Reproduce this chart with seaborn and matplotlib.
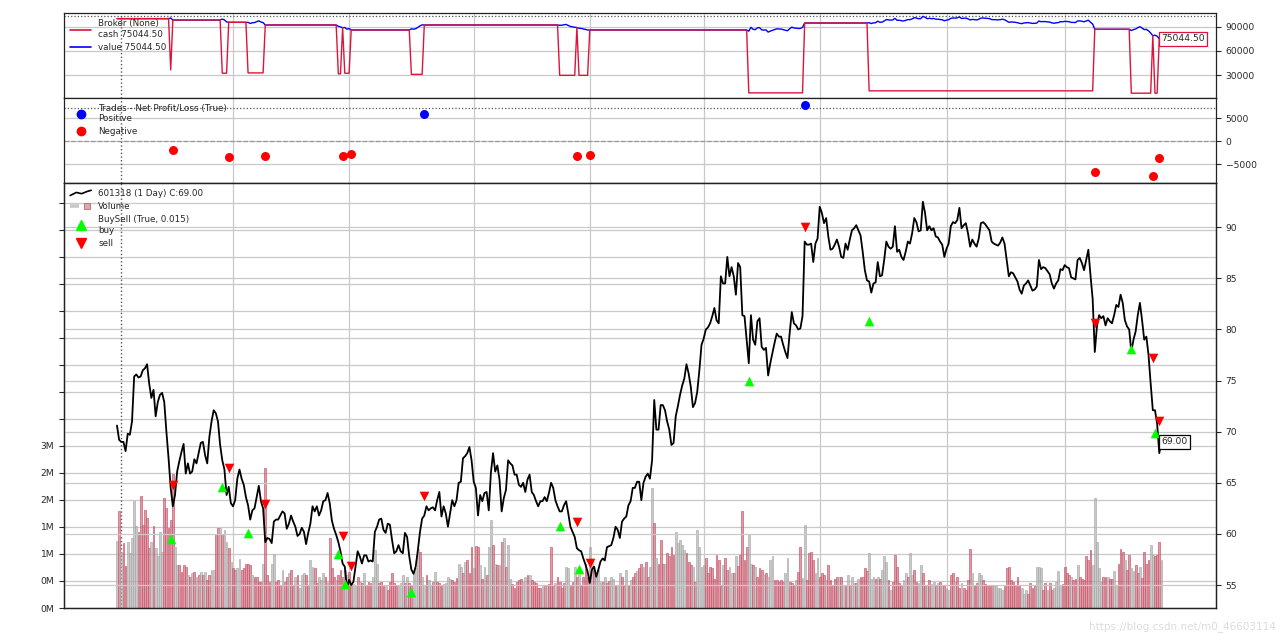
import numpy as np
import matplotlib
matplotlib.use("Agg")
import matplotlib.pyplot as plt
import seaborn as sns
from matplotlib.legend_handler import HandlerLine2D, HandlerTuple
from matplotlib.lines import Line2D

# ---------------- data ----------------
close = [
    70.6, 69.2, 69.0, 69.0, 68.1, 69.8, 69.7, 71.0, 75.4, 75.6,
    75.3, 75.4, 76.0, 76.2, 76.6, 74.7, 73.3, 74.1, 71.5, 72.9,
    73.6, 73.8, 72.9, 70.0, 67.4, 64.5, 62.7, 63.8, 66.1, 67.1,
    68.0, 68.8, 65.9, 66.9, 65.9, 66.1, 67.3, 66.9, 67.9, 68.9,
    69.0, 67.7, 66.9, 69.5, 71.0, 72.1, 71.8, 71.0, 68.7, 67.2,
    66.3, 63.8, 64.6, 63.0, 62.7, 63.3, 65.4, 66.3, 65.4, 64.8,
    63.6, 62.8, 61.4, 62.3, 62.5, 63.6, 64.7, 63.2, 62.5, 59.2,
    59.6, 59.5, 59.1, 61.2, 61.4, 61.4, 61.8, 62.2, 62.0, 60.5,
    61.0, 61.8, 61.2, 60.7, 59.8, 60.0, 60.6, 60.2, 59.0, 60.1,
    61.0, 62.7, 62.2, 62.7, 61.8, 62.3, 63.2, 63.3, 64.0, 63.0,
    61.3, 60.5, 59.9, 59.2, 58.3, 57.1, 56.8, 54.7, 55.5, 55.0,
    55.3, 56.8, 58.3, 57.8, 57.1, 57.9, 57.9, 57.3, 57.4, 57.3,
    60.2, 60.7, 61.4, 61.5, 60.4, 60.1, 61.0, 60.9, 59.4, 58.1,
    58.3, 58.9, 58.3, 58.1, 60.1, 59.7, 57.8, 56.5, 56.1, 56.8,
    58.4, 60.2, 61.5, 61.8, 62.7, 62.3, 62.5, 62.6, 62.3, 63.3,
    64.1, 61.7, 62.7, 62.0, 60.7, 62.0, 63.3, 62.7, 63.3, 65.0,
    65.1, 67.4, 67.6, 67.9, 68.5, 67.2, 65.1, 64.5, 61.8, 63.8,
    63.2, 64.0, 64.1, 62.3, 66.0, 67.9, 66.1, 66.7, 65.3, 62.2,
    63.5, 64.3, 67.2, 66.9, 66.7, 65.8, 65.8, 64.8, 64.6, 65.0,
    64.1, 65.3, 65.8, 64.1, 63.8, 63.2, 62.7, 63.2, 63.2, 63.6,
    63.2, 64.0, 65.0, 64.5, 63.3, 62.7, 62.2, 62.2, 62.8, 63.2,
    62.0, 60.7, 60.2, 59.7, 58.6, 58.4, 58.3, 57.6, 57.0, 56.3,
    55.2, 56.5, 56.8, 55.8, 56.5, 57.3, 57.6, 57.4, 58.7, 58.8,
    58.9, 59.6, 60.7, 60.4, 59.6, 61.2, 61.5, 61.7, 62.8, 63.2,
    64.5, 64.5, 65.1, 65.1, 63.3, 65.0, 65.6, 65.9, 65.4, 67.2,
    73.1, 70.2, 70.2, 72.6, 72.6, 72.1, 71.0, 70.2, 68.7, 68.9,
    71.5, 72.5, 73.6, 74.5, 75.2, 76.6, 75.7, 74.4, 72.4, 72.8,
    73.9, 76.0, 78.5, 79.1, 80.0, 80.2, 80.6, 81.3, 82.1, 80.9,
    80.6, 85.2, 84.5, 84.5, 87.1, 85.2, 86.1, 85.2, 83.4, 86.5,
    86.1, 81.4, 81.3, 79.0, 76.7, 81.4, 79.0, 78.5, 80.8, 81.1,
    78.3, 78.0, 78.2, 75.5, 76.7, 77.7, 78.7, 79.6, 79.3, 79.3,
    78.5, 77.8, 77.2, 79.6, 81.7, 80.6, 80.4, 80.0, 80.1, 81.3,
    88.6, 88.3, 88.3, 88.4, 86.6, 88.4, 88.9, 92.0, 91.4, 90.4,
    90.9, 89.1, 87.8, 87.9, 88.3, 88.8, 88.1, 87.1, 87.0, 88.4,
    87.8, 88.8, 89.7, 89.9, 90.2, 89.7, 89.2, 87.6, 85.8, 84.8,
    84.7, 83.6, 84.5, 84.6, 86.6, 85.2, 85.3, 86.8, 88.6, 88.1,
    87.9, 88.1, 90.1, 87.6, 87.8, 87.1, 86.8, 87.6, 88.6, 88.4,
    89.4, 90.9, 90.5, 89.6, 89.7, 92.5, 91.4, 89.7, 90.1, 89.7,
    89.9, 89.1, 89.0, 88.6, 88.3, 87.1, 87.9, 88.4, 90.1, 90.5,
    90.4, 90.7, 91.9, 89.9, 90.2, 90.4, 89.4, 88.1, 88.8, 88.4,
    88.1, 88.9, 90.4, 90.5, 90.3, 90.0, 89.7, 88.6, 88.4, 88.3,
    88.2, 88.5, 89.0, 88.4, 86.8, 85.2, 85.6, 85.5, 85.1, 84.7,
    83.9, 83.5, 84.3, 84.5, 84.8, 84.3, 83.8, 83.9, 84.2, 86.8,
    85.9, 86.1, 86.0, 85.7, 85.4, 84.5, 84.0, 84.5, 84.8, 85.9,
    85.8, 86.3, 86.1, 86.0, 85.1, 85.0, 84.9, 86.8, 87.0, 86.5,
    85.8, 86.8, 87.8, 85.3, 83.0, 77.8, 80.3, 81.4, 81.1, 81.3,
    80.4, 81.1, 80.8, 80.6, 81.4, 82.4, 82.2, 83.4, 82.6, 80.9,
    80.3, 80.0, 77.8, 79.0, 79.8, 81.4, 82.6, 80.9, 79.0, 79.3,
    77.5, 74.7, 72.1, 72.1, 70.8, 67.9, 69.0,
]

volume_m = [
    1.12, 1.62, 0.94, 1.09, 0.70, 1.10, 0.91, 1.16, 1.79, 1.36,
    1.27, 1.86, 1.38, 1.63, 1.50, 1.00, 1.10, 1.36, 1.00, 0.86,
    1.27, 0.94, 1.84, 1.66, 1.33, 1.47, 2.23, 1.02, 0.72, 0.71,
    0.60, 0.71, 0.69, 0.55, 0.52, 0.58, 0.60, 0.52, 0.55, 0.60,
    0.55, 0.60, 0.47, 0.55, 0.63, 0.63, 1.23, 1.33, 1.33, 1.24,
    1.30, 1.10, 1.00, 0.77, 0.66, 0.63, 0.66, 0.82, 0.63, 0.66,
    0.74, 0.74, 0.72, 0.55, 0.52, 0.52, 0.44, 0.44, 0.74, 2.34,
    0.55, 0.44, 0.74, 0.90, 0.44, 0.47, 0.38, 0.63, 0.44, 0.52,
    0.58, 0.63, 0.38, 0.52, 0.55, 0.33, 0.55, 0.59, 0.55, 0.38,
    0.80, 0.69, 0.66, 0.41, 0.52, 0.47, 0.58, 0.52, 0.44, 1.16,
    0.66, 0.52, 0.47, 0.55, 0.63, 0.52, 0.63, 0.55, 0.60, 0.36,
    0.40, 0.38, 0.52, 0.44, 0.41, 0.58, 0.38, 0.44, 0.41, 0.52,
    0.97, 0.74, 0.41, 0.44, 0.36, 0.36, 0.30, 0.44, 0.58, 0.41,
    0.36, 0.38, 0.41, 0.55, 0.41, 0.52, 0.41, 0.36, 0.58, 0.66,
    0.99, 0.94, 0.52, 0.38, 0.55, 0.47, 0.36, 0.44, 0.60, 0.44,
    0.41, 0.36, 0.40, 0.41, 0.52, 0.49, 0.47, 0.44, 0.50, 0.74,
    0.69, 0.58, 0.77, 0.80, 0.58, 1.02, 0.66, 1.03, 1.02, 0.72,
    0.49, 0.69, 0.55, 1.02, 1.47, 1.05, 0.74, 0.72, 0.72, 1.10,
    1.16, 0.69, 1.05, 0.49, 0.40, 0.33, 0.44, 0.47, 0.49, 0.44,
    0.52, 0.55, 0.55, 0.47, 0.44, 0.41, 0.33, 0.33, 0.36, 0.38,
    0.36, 0.40, 1.02, 0.38, 0.41, 0.52, 0.44, 0.33, 0.41, 0.69,
    0.66, 0.36, 0.44, 0.69, 0.52, 0.58, 0.36, 0.52, 0.74, 0.52,
    1.02, 0.80, 0.63, 0.58, 0.63, 0.44, 0.44, 0.52, 0.41, 0.45,
    0.52, 0.49, 0.38, 0.38, 0.58, 0.52, 0.36, 0.63, 0.38, 0.47,
    0.52, 0.58, 0.61, 0.66, 0.74, 0.69, 0.77, 0.52, 0.69, 2.00,
    1.41, 0.83, 0.74, 1.13, 0.74, 0.74, 0.91, 0.86, 1.02, 0.88,
    1.27, 1.08, 1.13, 1.05, 0.97, 0.91, 0.77, 0.72, 0.69, 0.44,
    1.30, 1.02, 0.69, 0.72, 0.83, 0.58, 0.69, 0.66, 0.49, 0.88,
    0.80, 0.36, 0.72, 0.83, 0.63, 0.69, 0.58, 0.58, 0.86, 0.70,
    0.88, 1.61, 0.80, 1.02, 1.24, 0.74, 0.72, 0.69, 0.52, 0.66,
    0.63, 0.55, 0.58, 0.52, 0.80, 0.86, 0.47, 0.47, 0.44, 0.47,
    0.44, 0.58, 0.83, 0.44, 0.41, 0.36, 0.47, 0.60, 1.02, 0.50,
    1.38, 0.47, 0.91, 0.94, 0.80, 0.58, 0.83, 0.52, 0.58, 0.55,
    0.47, 0.72, 0.47, 0.38, 0.49, 0.52, 0.52, 0.52, 0.38, 0.36,
    0.55, 0.38, 0.52, 0.41, 0.41, 0.49, 0.52, 0.52, 0.66, 0.61,
    0.91, 0.49, 0.52, 0.49, 0.52, 0.49, 0.63, 0.86, 0.77, 0.47,
    0.30, 0.44, 0.88, 0.69, 0.41, 0.36, 0.47, 0.58, 0.52, 0.91,
    0.55, 0.63, 0.44, 0.41, 0.72, 0.58, 0.38, 0.36, 0.47, 0.40,
    0.44, 0.36, 0.41, 0.44, 0.38, 0.36, 0.33, 0.30, 0.55, 0.58,
    0.44, 0.52, 0.33, 0.41, 0.33, 0.30, 0.47, 0.99, 0.58, 0.38,
    0.41, 0.58, 0.55, 0.47, 0.40, 0.36, 0.38, 0.38, 0.36, 0.36,
    0.33, 0.33, 0.30, 0.36, 0.66, 0.69, 0.47, 0.44, 0.36, 0.52,
    0.36, 0.33, 0.24, 0.30, 0.24, 0.41, 0.33, 0.36, 0.69, 0.69,
    0.66, 0.30, 0.41, 0.30, 0.41, 0.30, 0.33, 0.44, 0.61, 0.36,
    0.40, 0.69, 0.58, 0.55, 0.52, 0.47, 0.49, 0.72, 0.52, 0.49,
    0.47, 0.86, 0.80, 0.97, 0.72, 1.83, 1.10, 0.66, 0.44, 0.52,
    0.52, 0.52, 0.49, 0.49, 0.61, 0.38, 0.74, 0.99, 0.94, 0.80,
    0.63, 0.88, 0.66, 0.61, 0.72, 0.58, 0.69, 0.50, 0.94, 0.74,
    0.80, 1.05, 0.88, 0.86, 0.88, 1.10, 0.80,
]

# 'r' = down day (red volume bar), 'g' = up day (grey volume bar)
volume_dir = (
    "grgrrggggg" "rrrrrrgrgg" "ggrrrrrggr" "rrrgrgrgrg" "rgrrggrrgr"
    "ggrgrrggrr" "rrrgrrrrgr" "rrggrrrgrr" "grrgrgggrr" "ggrrgggrgr"
    "rrgrrrggrr" "ggrgrgrrrg" "ggrrrgrrrr" "rgggrgrrgg" "grggrggrgr"
    "rrggggrrrg" "grgrrrgrrg" "rgrggrgrgr" "grggrrrrrg" "grgrrrrrgr"
    "grrrgrrrrg" "grrgrgrrrr" "ggrgggrgrr" "ggrggrrgrg" "rrgrrgrrgg"
    "rgrrrgrrrr" "gggggrrrgr" "ggggrrrrrr" "rrgrrggrgr" "rrrrggrgrr"
    "rgrgggrrrr" "rggrrrgrrg" "grrrrggrrr" "grrrrrgrgr" "grggrgrrrr"
    "gggrgrgggr" "grrrrrggrg" "grrggrrgrg" "grgrgrggrr" "grrgrrrrgr"
    "rggrrrrrgg" "gggrrrrrrr" "rgggrrrrgg" "grrgrrgggg" "rrrrgrrgrr"
    "rrrrgggggr" "rgrrggrrrg" "rrggrrgrrr" "rggrrrg"
)

# BuySell observer (bar index, marker price)
buy_bars = [25, 49, 61, 103, 106, 137, 206, 215, 294, 350, 472, 483]
buy_prices = [59.47, 64.56, 60.06, 58.03, 55.07, 54.34, 60.80, 56.54, 74.96, 80.86, 78.06, 69.84]
sell_bars = [26, 52, 69, 105, 109, 143, 214, 220, 320, 455, 482, 485]
sell_prices = [64.78, 66.42, 62.93, 59.79, 56.89, 63.71, 61.19, 57.12, 90.06, 80.61, 77.24, 71.05]

# Trades observer: net profit/loss per closed trade
trade_bars = [26, 52, 69, 105, 109, 143, 214, 220, 320, 455, 482, 485]
trade_pnl = [-1800, -3390, -3260, -3110, -2830, 5935, -3150, -2930, 7890, -6650, -7460, -3700]

# Broker observer
start_cash = 100000.0
cash_in_position = [36300, 32200, 32600, 31400, 32200, 30800, 29600, 29600, 7800, 10300, 7400, 7400]
cash_after_trade = [98300, 95450, 92100, 88760, 85900, 92100, 89000, 85900, 94600, 86800, 78800, 75044.5]
position_size = 1000

grid_bars = [54, 108, 166, 220, 273, 327, 386, 441]
start_line_bar = 2
price_ticks = [55, 60, 65, 70, 75, 80, 85, 90]
broker_ticks = [30000, 60000, 90000]
trade_ticks = [-5000, 0, 5000]
vol_tick_step = 0.45
vol_tick_labels = ["0M", "0M", "1M", "1M", "2M", "2M", "3M"]

# ---------------- derived broker series ----------------
n = len(close)
bars = np.arange(n)
close_arr = np.array(close)
cash = np.full(n, start_cash)
value = np.full(n, start_cash)
for k, (b, s) in enumerate(zip(buy_bars, sell_bars)):
    cash[b:s] = cash_in_position[k]
    value[b:s] = cash_in_position[k] + position_size * close_arr[b:s]
    nxt = buy_bars[k + 1] if k + 1 < len(buy_bars) else n
    cash[s:nxt] = cash_after_trade[k]
    value[s:nxt] = cash_after_trade[k]

# ---------------- style ----------------
sns.set_style("white")
plt.rcParams["font.family"] = ["DejaVu Sans"]
plt.rcParams["axes.edgecolor"] = "#222222"
plt.rcParams["axes.linewidth"] = 0.9

FS = 6.3
GRID = dict(color="#c9c9c9", linewidth=0.9)

fig = plt.figure(figsize=(12.8, 6.4), dpi=100)
L, W = 0.05, 0.90
ax_b = fig.add_axes([L, 0.84734, W, 0.13188])
ax_t = fig.add_axes([L, 0.71359, W, 0.13375])
ax_v = fig.add_axes([L, 0.05, W, 0.66359])
ax_p = ax_v.twinx()

XLIM = (-24.65, 511.4)

for ax in (ax_b, ax_t, ax_v):
    ax.set_xlim(*XLIM)
    ax.set_xticks(grid_bars)
    ax.tick_params(axis="x", labelbottom=False, length=3, width=0.8)
    ax.grid(True, axis="x", **GRID)
    ax.axvline(start_line_bar, color="#555555", linestyle=":", linewidth=1.0, zorder=1)

# ---- broker panel ----
sns.lineplot(x=bars, y=value, ax=ax_b, color="blue", linewidth=1.0, legend=False, estimator=None, zorder=3)
sns.lineplot(x=bars, y=cash, ax=ax_b, color="crimson", linewidth=1.0, legend=False, estimator=None, zorder=4)
ax_b.set_ylim(1800, 106650)
ax_b.yaxis.tick_right()
ax_b.set_yticks(broker_ticks)
ax_b.grid(True, axis="y", **GRID)
ax_b.axhline(103600, color="#555555", linestyle=":", linewidth=0.9)
ax_b.tick_params(axis="y", labelsize=FS + 0.3, length=3.5, width=0.8)
ax_b.set_xlabel("")
ax_b.set_ylabel("")
ax_b.text(n - 1, cash[-1], "%.2f" % cash[-1], fontsize=FS + 0.3, va="center", ha="left",
          bbox=dict(boxstyle="square,pad=0.25", fc="white", ec="crimson", lw=0.9), zorder=6)
hb = [Line2D([], [], color="crimson", lw=1.2), Line2D([], [], color="blue", lw=1.2)]
ax_b.legend(hb, ["Broker (None)\ncash %.2f" % cash[-1], "value %.2f" % value[-1]],
            loc="upper left", frameon=False, fontsize=FS, borderaxespad=0.3,
            handlelength=2.4, labelspacing=0.45)

# ---- trades panel ----
pnl = np.array(trade_pnl)
tb = np.array(trade_bars)
pos = pnl > 0
sns.scatterplot(x=tb[pos], y=pnl[pos], ax=ax_t, color="blue", s=42, linewidth=0, zorder=4)
sns.scatterplot(x=tb[~pos], y=pnl[~pos], ax=ax_t, color="red", s=42, linewidth=0, zorder=4)
ax_t.axhline(0, color="#999999", linestyle="--", linewidth=0.9)
ax_t.axhline(7260, color="#555555", linestyle=":", linewidth=0.9)
ax_t.set_ylim(-9130, 9480)
ax_t.yaxis.tick_right()
ax_t.set_yticks(trade_ticks)
ax_t.grid(True, axis="y", **GRID)
ax_t.tick_params(axis="y", labelsize=FS + 0.3, length=3.5, width=0.8)
ax_t.set_xlabel("")
ax_t.set_ylabel("")
ht = [Line2D([], [], ls="none", marker="o", color="blue", ms=6),
      Line2D([], [], ls="none", marker="o", color="red", ms=6)]
ax_t.legend(ht, ["Trades - Net Profit/Loss (True)\nPositive", "Negative"],
            loc="upper left", frameon=False, fontsize=FS, borderaxespad=0.3,
            handlelength=2.4, labelspacing=0.45)

# ---- main panel: volume ----
red_face = (0.8, 0.376, 0.451, 0.62)
red_edge = (0.8, 0.376, 0.451, 1.0)
grey_face = (0.667, 0.667, 0.667, 0.62)
grey_edge = (0.667, 0.667, 0.667, 0.9)
faces = [red_face if d == "r" else grey_face for d in volume_dir]
edges = [red_edge if d == "r" else grey_edge for d in volume_dir]
ax_v.bar(bars, volume_m, width=0.85, color=faces, edgecolor=edges, linewidth=0.5, zorder=2)
ax_v.set_ylim(0, 7.078)
vt = np.arange(16) * vol_tick_step
ax_v.set_yticks(vt)
ax_v.set_yticklabels(vol_tick_labels + [""] * (len(vt) - len(vol_tick_labels)))
ax_v.grid(True, axis="y", **GRID)
ax_v.tick_params(axis="y", labelsize=FS + 0.3, length=3.5, width=0.8)
ax_v.set_axisbelow(True)

# ---- main panel: price ----
sns.lineplot(x=bars, y=close_arr, ax=ax_p, color="black", linewidth=1.3, legend=False, estimator=None, zorder=3)
sns.scatterplot(x=buy_bars, y=buy_prices, ax=ax_p, marker="^", color="lime", s=48, linewidth=0, zorder=5)
sns.scatterplot(x=sell_bars, y=sell_prices, ax=ax_p, marker="v", color="red", s=48, linewidth=0, zorder=5)
ax_p.set_xlim(*XLIM)
ax_p.set_ylim(52.75, 94.3)
ax_p.set_yticks(price_ticks)
ax_p.grid(True, axis="y", **GRID)
ax_p.tick_params(axis="y", labelsize=FS + 0.3, length=3.5, width=0.8)
ax_p.set_xlabel("")
ax_p.set_ylabel("")
ax_p.text(n - 1, close[-1], "%.2f" % close[-1], fontsize=FS + 0.3, va="center", ha="left",
          bbox=dict(boxstyle="square,pad=0.25", fc="white", ec="black", lw=0.9), zorder=6)


class WavyLineHandler(HandlerLine2D):
    def create_artists(self, legend, orig_handle, xdescent, ydescent, width, height, fontsize, trans):
        fx = np.array([0.0, 0.3, 0.55, 0.8, 1.0])
        fy = np.array([0.15, 0.65, 0.45, 0.8, 1.0])
        line = Line2D(fx * width - xdescent, fy * height - ydescent)
        self.update_prop(line, orig_handle, legend)
        line.set_transform(trans)
        return [line]


h_close = Line2D([], [], color="black", lw=1.2)
h_vol = (Line2D([], [], color="#c8c8c8", lw=2.6, solid_capstyle="butt"),
         Line2D([], [], ls="none", marker="s", ms=4.6, mfc="#e6a3ad", mec="#cc6073", mew=0.6))
h_buy = Line2D([], [], ls="none", marker="^", color="lime", ms=7)
h_sell = Line2D([], [], ls="none", marker="v", color="red", ms=7)
ax_p.legend([h_close, h_vol, h_buy, h_sell],
            ["601318 (1 Day) C:%.2f" % close[-1], "Volume", "BuySell (True, 0.015)\nbuy", "sell"],
            handler_map={h_close: WavyLineHandler(), tuple: HandlerTuple(ndivide=None)},
            loc="upper left", frameon=False, fontsize=FS, borderaxespad=0.3,
            handlelength=2.4, labelspacing=0.45)

fig.text(0.997, 0.012, "https://blog.csdn.net/m0_46603114", ha="right", va="bottom",
         fontsize=7.5, color="#dcdcdc")

fig.savefig("out.png", dpi=100)
